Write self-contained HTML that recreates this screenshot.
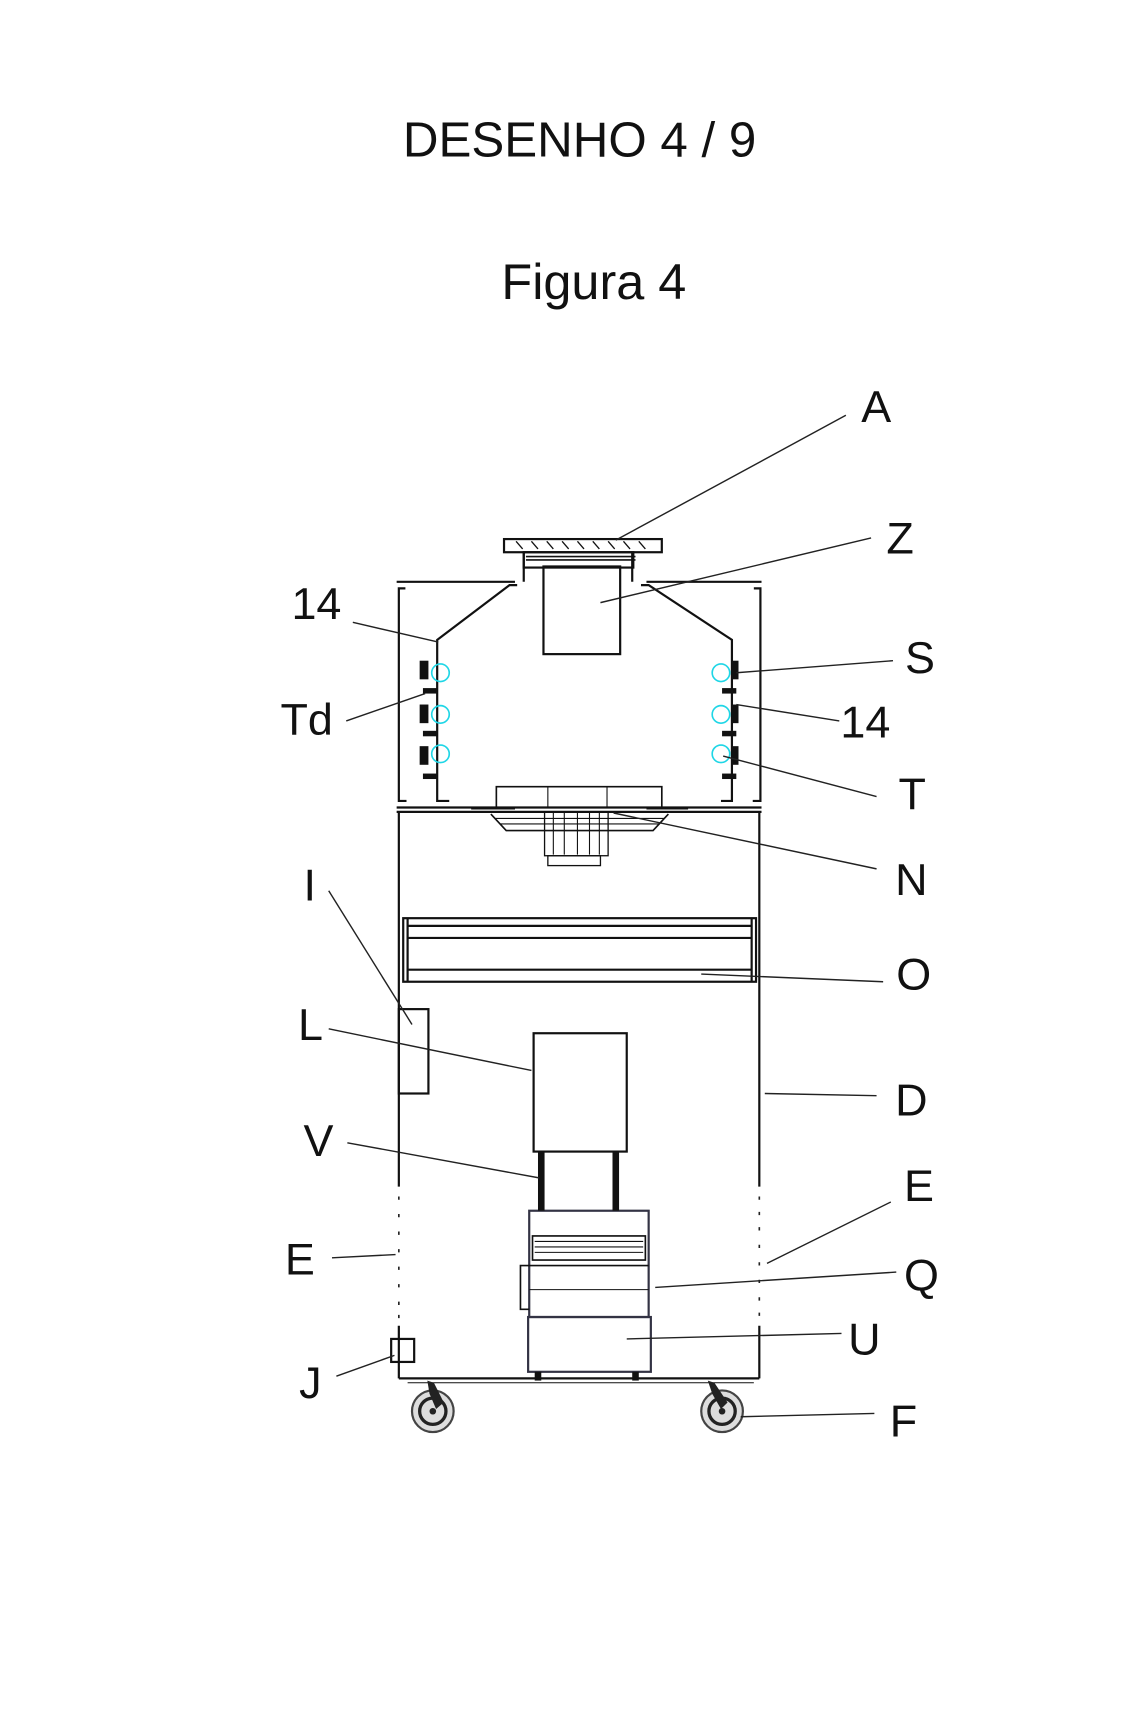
<!DOCTYPE html>
<html><head><meta charset="utf-8"><style>
html,body{margin:0;padding:0;background:#fff;}
svg{display:block;}
text{font-family:"Liberation Sans",Arial,sans-serif;fill:#111;}
</style></head><body>
<svg width="1122" height="1713" viewBox="0 0 1024 1563.4" xmlns="http://www.w3.org/2000/svg">
<rect width="1024" height="1564" fill="#fff"/>
<text x="529" y="143" font-size="45" text-anchor="middle">DESENHO 4 / 9</text>
<text x="542" y="273" font-size="46" text-anchor="middle">Figura 4</text>

<g stroke="#111" fill="none" stroke-width="2">
<!-- plate -->
<rect x="460" y="492" width="144" height="12"/>
<g stroke-width="1.2">
<line x1="471" y1="494" x2="477" y2="501"/><line x1="485" y1="494" x2="491" y2="501"/><line x1="499" y1="494" x2="505" y2="501"/><line x1="513" y1="494" x2="519" y2="501"/><line x1="527" y1="494" x2="533" y2="501"/><line x1="541" y1="494" x2="547" y2="501"/><line x1="555" y1="494" x2="561" y2="501"/><line x1="569" y1="494" x2="575" y2="501"/><line x1="583" y1="494" x2="589" y2="501"/>
</g>
<!-- neck -->
<path d="M478 504 V531 M577 504 V531"/>
<line x1="480" y1="508" x2="580" y2="508" stroke-width="1.5"/><line x1="480" y1="511" x2="580" y2="511" stroke-width="1.5"/>
<rect x="478" y="504" width="100" height="14"/>
<rect x="496" y="517" width="70" height="80"/>
<!-- upper cabinet -->
<path d="M362 531 H470 M590 531 H695"/>
<path d="M370 537 H364 V731 H371"/>
<path d="M688 537 H694 V731 H687"/>
<path d="M472 534 H465 L399 584 V731 H410"/>
<path d="M585 534 H592 L668 584 V731 H658"/>
<path d="M362 737 H695 M362 741 H695"/>
<!-- lower cabinet -->
<path d="M364 741 V1083 M693 741 V1083"/>
<path d="M364 1210 V1258 M693 1210 V1258"/>
<path d="M364 1258 H693"/>
<path d="M372 1262 H688" stroke-width="1"/>
<!-- O bar -->
<rect x="368" y="838" width="322" height="58"/>
<line x1="372" y1="845" x2="686" y2="845"/><line x1="372" y1="856" x2="686" y2="856"/><line x1="372" y1="885" x2="686" y2="885"/>
<line x1="372" y1="838" x2="372" y2="896"/><line x1="686" y1="838" x2="686" y2="896"/>
<!-- I -->
<rect x="364" y="921" width="27" height="77"/>
<!-- L -->
<rect x="487" y="943" width="85" height="108"/>
<!-- J -->
<rect x="357" y="1222" width="21" height="21"/>
<!-- Q/U unit -->
<rect x="483" y="1105" width="109" height="97" stroke="#334"/>
<rect x="486" y="1128" width="103" height="22" stroke-width="1.5"/>
<line x1="488" y1="1133" x2="587" y2="1133" stroke-width="1"/><line x1="488" y1="1138" x2="587" y2="1138" stroke-width="1"/><line x1="488" y1="1143" x2="587" y2="1143" stroke-width="1"/>
<line x1="483" y1="1155" x2="592" y2="1155" stroke-width="1.5"/>
<line x1="483" y1="1177" x2="592" y2="1177" stroke-width="1"/>
<rect x="482" y="1202" width="112" height="50" stroke="#334"/>
<path d="M483 1155 H475 V1195 H483" stroke-width="1.5"/>
<!-- fan N -->
<path d="M453 718 H604 V737 H453 Z" stroke-width="1.5"/>
<line x1="500" y1="718" x2="500" y2="737" stroke-width="1"/><line x1="554" y1="718" x2="554" y2="737" stroke-width="1"/>
<path d="M430 738 H470 M590 738 H628" stroke-width="1.5"/>
<path d="M448 743 L462 758 H596 L610 743" stroke-width="1.5"/>
<line x1="452" y1="747" x2="606" y2="747" stroke-width="1"/><line x1="456" y1="752" x2="602" y2="752" stroke-width="1"/>
<rect x="497" y="741" width="58" height="40" stroke-width="1.2"/>
<line x1="505" y1="742" x2="505" y2="780" stroke-width="1"/><line x1="515" y1="742" x2="515" y2="780" stroke-width="1"/><line x1="527" y1="742" x2="527" y2="780" stroke-width="1"/><line x1="538" y1="742" x2="538" y2="780" stroke-width="1"/><line x1="547" y1="742" x2="547" y2="780" stroke-width="1"/>
<rect x="500" y="781" width="48" height="9" stroke-width="1.2"/>
</g>
<!-- legs -->
<rect x="491" y="1051" width="6" height="54" fill="#111"/>
<rect x="559" y="1051" width="6" height="54" fill="#111"/>
<rect x="488" y="1252" width="6" height="8" fill="#111"/>
<rect x="577" y="1252" width="6" height="8" fill="#111"/>
<!-- dashed sides -->
<g stroke="#222" stroke-width="1.5">
<path d="M364 1092 v3 M364 1108 v3 M364 1124 v3 M364 1140 v3 M364 1156 v3 M364 1172 v3 M364 1188 v3 M364 1200 v3"/>
<path d="M693 1092 v3 M693 1106 v3 M693 1120 v3 M693 1136 v3 M693 1152 v3 M693 1168 v3 M693 1184 v3 M693 1198 v3"/>
</g>
<!-- lamps -->
<g fill="#111">
<rect x="383" y="603" width="8" height="17"/><rect x="386" y="628" width="13" height="5"/>
<rect x="383" y="643" width="8" height="17"/><rect x="386" y="667" width="13" height="5"/>
<rect x="383" y="681" width="8" height="17"/><rect x="386" y="706" width="13" height="5"/>
<rect x="668" y="603" width="6" height="17"/><rect x="659" y="628" width="13" height="5"/>
<rect x="668" y="643" width="6" height="17"/><rect x="659" y="667" width="13" height="5"/>
<rect x="668" y="681" width="6" height="17"/><rect x="659" y="706" width="13" height="5"/>
</g>
<g fill="none" stroke="#1fd6e6" stroke-width="1.5">
<circle cx="402" cy="614" r="8"/><circle cx="402" cy="652" r="8"/><circle cx="402" cy="688" r="8"/>
<circle cx="658" cy="614" r="8"/><circle cx="658" cy="652" r="8"/><circle cx="658" cy="688" r="8"/>
</g>
<!-- wheels -->
<g>
<circle cx="395" cy="1288" r="19" fill="#ddd" stroke="#444" stroke-width="2"/>
<circle cx="395" cy="1288" r="12" fill="none" stroke="#222" stroke-width="3"/>
<circle cx="395" cy="1288" r="3" fill="#222"/>
<path d="M390 1260 L396 1262 L405 1280 L398 1286 L392 1272 Z" fill="#222"/>
<circle cx="659" cy="1288" r="19" fill="#ddd" stroke="#444" stroke-width="2"/>
<circle cx="659" cy="1288" r="12" fill="none" stroke="#222" stroke-width="3"/>
<circle cx="659" cy="1288" r="3" fill="#222"/>
<path d="M646 1260 L652 1262 L664 1280 L658 1286 L650 1272 Z" fill="#222"/>
</g>
<!-- leaders -->
<g stroke="#222" stroke-width="1.3">
<line x1="772" y1="379" x2="562" y2="493"/>
<line x1="795" y1="491" x2="548" y2="550"/>
<line x1="322" y1="568" x2="400" y2="586"/>
<line x1="815" y1="603" x2="672" y2="614"/>
<line x1="316" y1="658" x2="388" y2="633"/>
<line x1="766" y1="658" x2="672" y2="643"/>
<line x1="800" y1="727" x2="660" y2="690"/>
<line x1="800" y1="793" x2="560" y2="742"/>
<line x1="300" y1="813" x2="376" y2="935"/>
<line x1="806" y1="896" x2="640" y2="889"/>
<line x1="300" y1="939" x2="485" y2="977"/>
<line x1="800" y1="1000" x2="698" y2="998"/>
<line x1="317" y1="1043" x2="492" y2="1075"/>
<line x1="813" y1="1097" x2="700" y2="1153"/>
<line x1="303" y1="1148" x2="361" y2="1145"/>
<line x1="818" y1="1161" x2="598" y2="1175"/>
<line x1="768" y1="1217" x2="572" y2="1222"/>
<line x1="307" y1="1256" x2="360" y2="1237"/>
<line x1="798" y1="1290" x2="676" y2="1293"/>
</g>
<!-- labels -->
<g font-size="41">
<text x="786" y="385">A</text>
<text x="809" y="505">Z</text>
<text x="266" y="565">14</text>
<text x="826" y="614">S</text>
<text x="256" y="671">Td</text>
<text x="767" y="673">14</text>
<text x="820" y="739">T</text>
<text x="817" y="817">N</text>
<text x="277" y="822">I</text>
<text x="818" y="903">O</text>
<text x="272" y="949">L</text>
<text x="817" y="1018">D</text>
<text x="277" y="1055">V</text>
<text x="825" y="1096">E</text>
<text x="260" y="1163">E</text>
<text x="825" y="1178">Q</text>
<text x="774" y="1236">U</text>
<text x="273" y="1276">J</text>
<text x="812" y="1311">F</text>
</g>
</svg>
</body></html>
